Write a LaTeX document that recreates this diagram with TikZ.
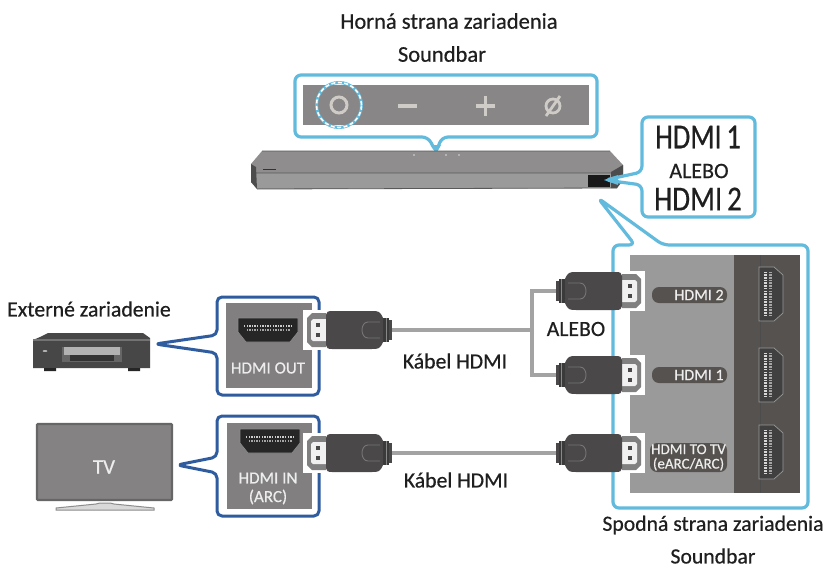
\documentclass[tikz,border=0pt]{standalone}
\usepackage{graphicx}
\usepackage{fontspec}
\setmainfont[FakeBold=0.5]{Carlito}
\definecolor{cyanline}{HTML}{62BBDD}
\definecolor{blueline}{HTML}{2F5C9E}
\definecolor{panelgray}{HTML}{8F8D8D}
\definecolor{panellight}{HTML}{9B9A9A}
\definecolor{stripdark}{HTML}{55524F}
\definecolor{plugdark}{HTML}{4A4848}
\definecolor{cablegray}{HTML}{A3A3A3}
\definecolor{textdark}{HTML}{1F1F1F}
\definecolor{paneltext}{HTML}{EDEDED}
\definecolor{ctrlcol}{HTML}{CFCBC7}
\tikzset{
  lbl/.style={inner sep=0pt,text=textdark,font=\fontsize{21.7}{24}\selectfont},
  plbl/.style={inner sep=0pt,text=paneltext,align=center,font=\fontsize{17}{19}\selectfont},
  pilllbl/.style={inner sep=0pt,text=paneltext,align=center,font=\fontsize{16}{14}\selectfont},
  pill/.style={fill=stripdark,rounded corners=7pt},
  bubble/.style={draw=cyanline,line width=3.2pt,rounded corners=6pt,fill=white,line join=round},
  bubbleb/.style={draw=blueline,line width=3pt,rounded corners=5pt,fill=white,line join=round},
  cable/.style={draw=cablegray,line width=4.2pt},
  ctrl/.style={draw=ctrlcol,line width=3.2pt},
}
% plug: local x from tail (0) to head (86)
\newcommand{\plugshape}{%
  \fill[white] (62,-20) rectangle (89,20);
  \fill[white!50!black] (66,-17) -- (80,-17) -- (85,-12) -- (85,12) -- (80,17) -- (66,17) -- cycle;
  \fill[white!94!black] (66,-11) -- (79,-11) -- (81,-9) -- (81,9) -- (79,11) -- (66,11) -- cycle;
  \fill[plugdark] (72,-7) rectangle (76,-3);
  \fill[plugdark] (72,3) rectangle (76,7);
  \fill[plugdark] (0,-10) rectangle (5,10);
  \fill[plugdark!80!black] (3,-12) rectangle (11,12);
  \fill[white!35!plugdark] (5,-12) rectangle (6,12);
  \fill[plugdark] (9,-12) .. controls (12,-19) and (14,-19) .. (20,-19) -- (60,-19) .. controls (64,-19) and (66,-18) .. (66,-15) -- (66,15) .. controls (66,18) and (64,19) .. (60,19) -- (20,19) .. controls (14,19) and (12,19) .. (9,12) -- cycle;
  \draw[white!25!plugdark,line width=.9pt] (12,-8) -- (24,-8) .. controls (32,-8) and (32,8) .. (24,8) -- (12,8);
}
% port, horizontal, centred
\newcommand{\hport}[2]{%
  \begin{scope}[shift={(#1,#2)}]
    \fill[black!85,draw=white!55!black,line width=.7pt] (-30,-12) -- (30,-12) -- (30,2) -- (22,12) -- (-22,12) -- (-30,2) -- cycle;
    \foreach \i in {-9,...,9} {\fill[white!80!black] (\i*2.6-.7,-5) rectangle +(1.4,2.2);}
    \foreach \i in {-8,...,8} {\fill[white!65!black] (\i*2.6-.7,-1) rectangle +(1.4,1.6);}
  \end{scope}}
% port, vertical, centred
\newcommand{\vport}[2]{%
  \begin{scope}[shift={(#1,#2)}]
    \fill[black!75,draw=white!60!black,line width=.7pt] (-12,-27) -- (3,-27) -- (12,-19) -- (12,19) -- (3,27) -- (-12,27) -- cycle;
    \foreach \i in {-8,...,8} {\fill[white!85!black] (-7,\i*2.7-.8) rectangle +(3,1.6);\fill[white!65!black] (-2,\i*2.7-.8) rectangle +(3,1.6);}
  \end{scope}}
\begin{document}
\begin{tikzpicture}[x=1pt,y=-1pt]
\useasboundingbox (0,0) rectangle (826,570);
\fill[white] (0,0) rectangle (826,570);

% named anchors for the cables
\coordinate (tailA) at (392,330);
\coordinate (tailB) at (392,453);
\coordinate (fork) at (532,330);
\coordinate (forkT) at (532,291);
\coordinate (forkB) at (532,375);
\coordinate (tailR1) at (556,291);
\coordinate (tailR2) at (556,375);
\coordinate (tailR3) at (556,453);

% top control bubble
\draw[bubble] (295,75) -- (597,75) -- (597,137) -- (442,137) -- (436,152) -- (428,137) -- (295,137) -- cycle;
\fill[cyanline] (431,145) -- (441,145) -- (436,154) -- cycle;
\fill[panelgray!95!black] (303,85) rectangle (589,125);
\node[circle,draw=cyanline,line width=3pt,minimum size=45pt,inner sep=0pt] (powerring) at (339,105) {};
\node[circle,draw=white,dash pattern=on 4pt off 2.5pt,line width=1.6pt,minimum size=45pt,inner sep=0pt] (powerdash) at (339,105) {};
\node[circle,draw=ctrlcol,line width=3pt,minimum size=16pt,inner sep=0pt] (powerbtn) at (339,105) {};
\draw[ctrl] (398,106) -- (417,106);
\draw[ctrl] (476,106) -- (495,106) (485.5,96) -- (485.5,116);
\node[circle,draw=ctrlcol,line width=2.8pt,minimum size=14pt,inner sep=0pt] (mutebtn) at (553,106) {};
\draw[ctrl,line width=2.8pt] (546,116) -- (560,96);

% soundbar
\fill[panelgray] (262,151) -- (610,151) -- (623,165) -- (623,180) -- (617,188) -- (257,189) -- (251,182) -- (251,164) -- cycle;
\fill[panellight] (256,173) rectangle (611,188);
\fill[black!70] (251,164) -- (256,167) -- (257,189) -- (251,182) -- cycle;
\fill[black!70] (623,165) -- (623,180) -- (617,188) -- (611,188) -- (611,172) -- cycle;
\draw[black!65,line width=.8pt] (256,173) -- (611,173) (262,151) -- (610,151) (257,189) -- (617,188);
\draw[black!80,line width=.7pt] (263,169) -- (276,169);
\fill[white!70!panelgray] (414,155) circle (.8) (446,155) circle (.8) (459,155) circle (.8);
\fill[black!90] (588,175) rectangle (610,187);

% HDMI bubble
\draw[bubble] (642,117) -- (755,117) -- (755,217) -- (642,217) -- (642,185) -- (605,180) -- (642,172) -- cycle;
\fill[cyanline] (604,180) -- (618,175) -- (618,185) -- cycle;
\node[lbl,font=\fontsize{35}{36}\selectfont] (h1) at (698,137) {\scalebox{.81}[1]{HDMI\,1}};
\node[lbl,font=\fontsize{22}{24}\selectfont] (alebotop) at (699,171) {ALEBO};
\node[lbl,font=\fontsize{35}{36}\selectfont] (h2) at (698,199) {\scalebox{.83}[1]{HDMI\,2}};

% bottom panel bubble
\draw[bubble] (613,245) -- (635,245) -- (598,198) -- (663,245) -- (808,245) -- (808,508) -- (613,508) -- cycle;
\fill[panellight] (630,255) rectangle (734,493);
\fill[stripdark] (734,255) rectangle (800,493);
\draw[black!70,line width=.7pt] (760,255) -- (760,493);
\vport{771}{294}
\vport{771}{375}
\vport{771}{452}
\fill[pill] (652,287) rectangle (727,303);
\fill[pill] (652,367) rectangle (727,383);
\fill[pill] (650,443) rectangle (727,472);
\node[pilllbl] (p2) at (699,295) {HDMI 2};
\node[pilllbl] (p1) at (699,375) {HDMI 1};
\node[pilllbl,font=\fontsize{15}{14.5}\selectfont] (p3) at (688.5,457.5) {HDMI TO TV\\(eARC/ARC)};

% external device
\fill[black!72] (40,337) -- (48,333) -- (143,333) -- (150,338) -- (150,368) -- (33,368) -- (33,340) -- cycle;
\fill[black!55] (33,339) -- (150,339) -- (150,341) -- (33,341) -- cycle;
\fill[black!60] (62,347) rectangle (122,362);
\fill[black!30] (64,347) rectangle (120,355);
\fill[black!80] (70,355) rectangle (114,361);
\fill[white!70!black] (45,351) ellipse (2.5 and 1);
\fill[black!85] (44,368) rectangle (56,371) (128,368) rectangle (140,371);

% blue bubbles
\draw[bubbleb] (217,297) -- (319,297) -- (319,395) -- (217,395) -- (217,353) -- (155,344) -- (217,335) -- cycle;
\fill[panelgray!90!black] (226,303) rectangle (312,388);
\hport{268}{330}
\node[plbl] (hout) at (268,368) {HDMI OUT};
\draw[bubbleb] (217,416) -- (319,416) -- (319,516) -- (217,516) -- (217,473) -- (177,465) -- (217,457) -- cycle;
\fill[panelgray!90!black] (227,423) rectangle (312,509);
\hport{270}{441}
\node[plbl] (hin) at (268,478) {HDMI IN};
\node[plbl] (harc) at (268,497) {(ARC)};

% TV
\draw[black!60,line width=2.2pt,fill=panelgray!92!black,rounded corners=1pt] (37,424) rectangle (172,500);
\draw[black!45,line width=1pt,fill=black!15] (56,508) -- (96,504) -- (100,503) -- (110,503) -- (114,504) -- (154,508) -- (154,510) -- (56,510) -- cycle;
\node[inner sep=0pt,text=paneltext,font=\fontsize{21}{24}\selectfont] (tv) at (104,467) {TV};

% cables
\path[cable] (tailA) -- (fork);
\path[cable] (tailB) -- (tailR3);
\path[cable,line join=miter] (tailR1) -- (forkT) -- (forkB) -- (tailR2);

% plugs
\begin{scope}[shift={(tailA)},xscale=-1]\plugshape\end{scope}
\begin{scope}[shift={(tailB)},xscale=-1]\plugshape\end{scope}
\begin{scope}[shift={(tailR1)}]\plugshape\end{scope}
\begin{scope}[shift={(tailR2)}]\plugshape\end{scope}
\begin{scope}[shift={(tailR3)}]\plugshape\end{scope}

% labels
\node[lbl,font=\fontsize{22.5}{24}\selectfont] (top1) at (449,21) {Horná strana zariadenia};
\node[lbl,font=\fontsize{22.5}{24}\selectfont] (top2) at (442,54) {Soundbar};
\node[lbl] (ext) at (89,309) {Externé zariadenie};
\node[lbl] (k1) at (455,361) {Kábel HDMI};
\node[lbl] (k2) at (456,480) {Kábel HDMI};
\node[lbl] (alebo) at (576,329) {ALEBO};
\node[lbl] (bot1) at (713,525) {Spodná strana zariadenia};
\node[lbl] (bot2) at (713,556) {Soundbar};
\end{tikzpicture}
\end{document}
